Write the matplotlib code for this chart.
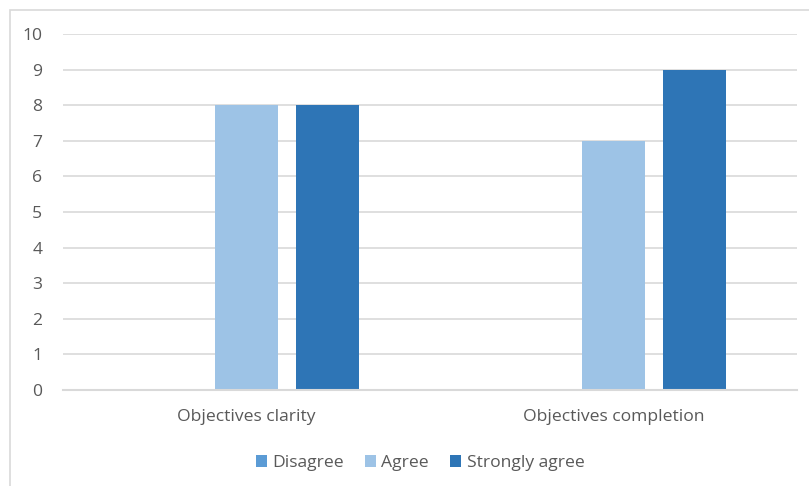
import matplotlib.pyplot as plt
import numpy as np
from matplotlib.patches import Rectangle

W, H = 809, 486
DPI = 100

categories = ["Objectives clarity", "Objectives completion"]
series = ["Disagree", "Agree", "Strongly agree"]
disagree = [0, 0]
agree = [8, 7]
strongly_agree = [8, 9]
colors = ["#5B9BD5", "#9DC3E6", "#2E75B6"]
yticks = list(range(0, 11))

TEXT = "#595959"
GRID = "#D9D9D9"
FS = 12.6

plt.rcParams["font.family"] = ["Open Sans", "DejaVu Sans"]

fig = plt.figure(figsize=(W / DPI, H / DPI), dpi=DPI)
fig.patch.set_facecolor("white")

# outer chart border (Excel style)
fig.patches.append(
    Rectangle((10 / W, -0.1), 1.2, 1 - 10 / H + 0.1, transform=fig.transFigure,
              fill=False, ec=GRID, lw=1.2)
)

ax = fig.add_axes([63 / W, (H - 390) / H, (797 - 63) / W, (390 - 34) / H])

x = np.arange(len(categories))
width = 63 / 367
step = 81 / 367
for i, (name, vals) in enumerate(zip(series, [disagree, agree, strongly_agree])):
    ax.bar(x + (i - 1) * step, vals, width, color=colors[i], label=name, zorder=3)

ax.set_xlim(-0.5, len(categories) - 0.5)
ax.set_ylim(0, 10)
ax.set_yticks(yticks)
ax.yaxis.grid(True, color=GRID, lw=1.2, zorder=0)
ax.set_xticks(x)
ax.set_xticklabels(categories)
ax.tick_params(axis="both", length=0, colors=TEXT, labelsize=FS)
ax.tick_params(axis="y", pad=15)
ax.tick_params(axis="x", pad=14)
for s in ["top", "right", "left"]:
    ax.spines[s].set_visible(False)
ax.spines["bottom"].set_color(GRID)
ax.spines["bottom"].set_linewidth(1.5)
ax.spines["bottom"].set_zorder(4)

leg = fig.legend(loc="center", bbox_to_anchor=(420 / W, 1 - 463 / H), ncol=3,
                 frameon=False, handlelength=0.65, handleheight=0.65,
                 handletextpad=0.3, columnspacing=1.2, fontsize=FS)
for t in leg.get_texts():
    t.set_color(TEXT)

fig.savefig("out.png", dpi=DPI)
